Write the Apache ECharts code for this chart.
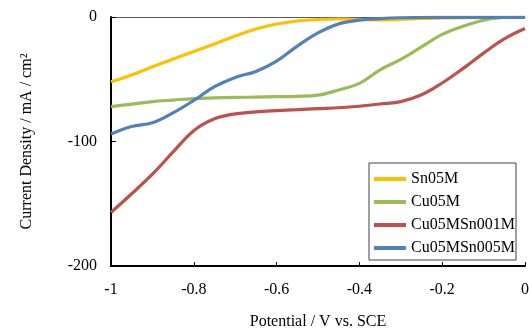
<!DOCTYPE html>
<html>
<head>
<meta charset="utf-8">
<script src="https://cdn.jsdelivr.net/npm/echarts@6/dist/echarts.min.js"></script>
<style>
html,body{margin:0;padding:0;background:#fff;}
#chart{width:529px;height:331px;}
</style>
</head>
<body>
<div id="chart"></div>
<script>
var potentials = [-1, -0.95, -0.9, -0.85, -0.8, -0.75, -0.7, -0.65, -0.6, -0.55, -0.5, -0.45, -0.4, -0.35, -0.3, -0.25, -0.2, -0.15, -0.1, -0.05, 0];
var sn05M = [-52, -46.5, -40, -33.7, -27.7, -21.7, -15.3, -9.6, -5.6, -3.2, -2, -1.6, -2, -2.4, -2, -1.2, -0.8, -0.6, -0.5, -0.4, -0.4];
var cu05M = [-72, -70, -68, -66.7, -65.5, -65, -64.6, -64.3, -64, -63.7, -62.8, -58.6, -53.3, -42.5, -34, -24, -14, -7.5, -2.6, -0.4, -0.3];
var cu05MSn001M = [-157, -142, -126.3, -108.4, -91.3, -81.8, -77.8, -76.2, -75.2, -74.4, -73.6, -72.9, -71.7, -69.9, -68, -62.5, -53, -41.5, -29, -17.6, -9.3];
var cu05MSn005M = [-94, -87.9, -85, -77, -67, -56, -48.5, -43.7, -35.4, -23.4, -12.8, -5.5, -2.5, -1.3, -0.6, -0.4, -0.3, -0.3, -0.3, -0.3, -0.3];
var seriesNames = ['Sn05M', 'Cu05M', 'Cu05MSn001M', 'Cu05MSn005M'];
var seriesValues = [sn05M, cu05M, cu05MSn001M, cu05MSn005M];
var colors = ['#FFC000', '#9BBB59', '#C0504D', '#4F81BD'];
var xTitle = 'Potential / V vs. SCE';
var yTitle = 'Current Density / mA / cm\u00B2';

var font = 'Liberation Serif';
var chart = echarts.init(document.getElementById('chart'), null, {renderer: 'canvas'});
var series = seriesNames.map(function (name, i) {
  return {
    name: name,
    type: 'line',
    data: potentials.map(function (p, j) { return [p, seriesValues[i][j]]; }),
    showSymbol: false,
    symbol: 'none',
    smooth: 0.4,
    lineStyle: {color: colors[i], width: 3.2},
    itemStyle: {color: colors[i]},
    animation: false
  };
});
chart.setOption({
  animation: false,
  textStyle: {fontFamily: font, color: '#000'},
  grid: {left: 111, right: 4, top: 17, bottom: 65, containLabel: false, outerBoundsMode: 'none'},
  legend: {
    orient: 'vertical',
    left: 369,
    top: 163,
    data: seriesNames.map(function (n) { return {name: n, icon: 'rect'}; }),
    itemWidth: 32,
    itemHeight: 4,
    itemGap: 7,
    itemTextGap: 4,
    padding: [8, 1, 4, 5],
    borderColor: '#404040',
    borderWidth: 1,
    backgroundColor: '#fff',
    textStyle: {fontFamily: font, fontSize: 16, color: '#000', lineHeight: 16}
  },
  xAxis: [{
    type: 'value',
    min: -1,
    max: 0,
    interval: 0.2,
    position: 'bottom',
    name: xTitle,
    nameLocation: 'middle',
    nameGap: 48,
    nameTextStyle: {fontFamily: font, fontSize: 16, color: '#000'},
    axisLine: {show: true, onZero: false, lineStyle: {color: '#000', width: 2}},
    axisTick: {show: true, inside: true, length: 4, lineStyle: {color: '#000', width: 1}},
    axisLabel: {fontFamily: font, fontSize: 16, color: '#000', margin: 16},
    splitLine: {show: false}
  }, {
    type: 'value',
    min: -1,
    max: 0,
    position: 'top',
    axisLine: {show: true, onZero: false, lineStyle: {color: '#595959', width: 1}},
    axisTick: {show: false},
    axisLabel: {show: false},
    splitLine: {show: false}
  }],
  yAxis: {
    type: 'value',
    min: -200,
    max: 0,
    interval: 100,
    name: yTitle,
    nameLocation: 'middle',
    nameGap: 76,
    nameTextStyle: {fontFamily: font, fontSize: 16, color: '#000'},
    axisLine: {show: true, onZero: false, lineStyle: {color: '#000', width: 2}},
    axisTick: {show: true, inside: true, length: 5, lineStyle: {color: '#000', width: 1}},
    axisLabel: {fontFamily: font, fontSize: 16, color: '#000', margin: 14},
    splitLine: {show: false}
  },
  series: series
});
</script>
</body>
</html>
